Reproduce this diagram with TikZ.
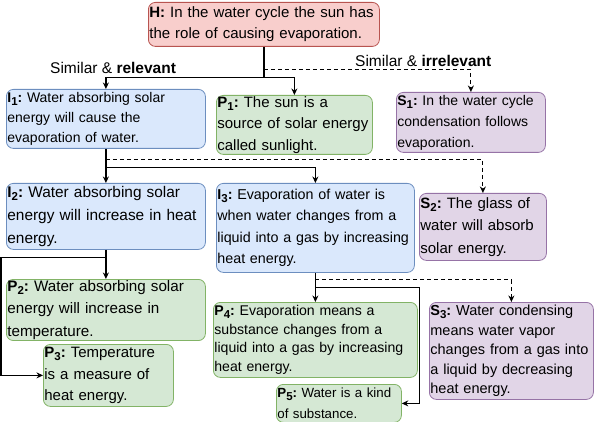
\documentclass[tikz,border=0pt]{standalone}
\usepackage{fontspec}
\setmainfont{Liberation Sans}
\usetikzlibrary{positioning, arrows.meta, calc}

\definecolor{hypfill}{HTML}{F8CECC}
\definecolor{hypline}{HTML}{B85450}
\definecolor{inffill}{HTML}{DAE8FC}
\definecolor{infline}{HTML}{6C8EBF}
\definecolor{prefill}{HTML}{D5E8D4}
\definecolor{preline}{HTML}{82B366}
\definecolor{simfill}{HTML}{E1D5E7}
\definecolor{simline}{HTML}{9673A6}

\newcommand{\fsz}[2]{\fontsize{#1}{#2}\selectfont}
\newcommand{\stmt}[2]{\textbf{#1\raisebox{-0.22em}{\fontsize{11.5}{12}\selectfont#2}:}}

\begin{document}
\begin{tikzpicture}[x=1pt, y=-1pt,
    card/.style={draw, rounded corners=7pt, anchor=north west, align=left,
                 inner xsep=1pt, inner ysep=1pt, line width=0.8pt,
                 execute at begin node={\hyphenpenalty=10000\frenchspacing}},
    hcard/.style={card, fill=hypfill, draw=hypline},
    icard/.style={card, fill=inffill, draw=infline},
    pcard/.style={card, fill=prefill, draw=preline},
    scard/.style={card, fill=simfill, draw=simline},
    link/.style={line width=1.3pt},
    flow/.style={link, -{Stealth[length=6.5pt,width=6pt]}},
    simflow/.style={flow, line width=1.1pt, dash pattern=on 4pt off 3pt}]
    \useasboundingbox (0,0) rectangle (594,422);

    % hypothesis
    \node[hcard, text width=229pt, minimum height=44pt, font=\fsz{15}{21}] (H) at (148,2)
        {\textbf{H:} In the water cycle the sun has\\the role of causing evaporation.};

    % first level
    \node[icard, text width=197pt, minimum height=59pt, font=\fsz{14}{20}] (I1) at (6,89)
        {\stmt{I}{1} Water absorbing solar\\energy will cause the\\evaporation of water.};
    \node[pcard, text width=154pt, minimum height=59pt, font=\fsz{15}{21.5}] (P1) at (216,95)
        {\stmt{P}{1} The sun is a\\source of solar energy\\called sunlight.};
    \node[scard, text width=147pt, minimum height=60pt, font=\fsz{14}{21}] (S1) at (396,92)
        {\stmt{S}{1} In the water cycle\\condensation follows\\evaporation.};

    % second level
    \node[icard, text width=197pt, minimum height=66pt, font=\fsz{15.4}{23}] (I2) at (6,183)
        {\stmt{I}{2} Water absorbing solar\\energy will increase in heat\\energy.};
    \node[icard, text width=196pt, minimum height=89pt, font=\fsz{14.3}{21.5}] (I3) at (216,183)
        {\stmt{I}{3} Evaporation of water is\\when water changes from a\\liquid into a gas by increasing\\heat energy.};
    \node[scard, text width=125pt, minimum height=67pt, font=\fsz{15}{22.5}] (S2) at (419,193)
        {\stmt{S}{2} The glass of\\water will absorb\\solar energy.};

    % third level
    \node[pcard, text width=197pt, minimum height=60pt, font=\fsz{15.2}{22.5}] (P2) at (6,279)
        {\stmt{P}{2} Water absorbing solar\\energy will increase in\\temperature.};
    \node[pcard, text width=128pt, minimum height=62pt, font=\fsz{15}{21.5}] (P3) at (43,344)
        {\stmt{P}{3} Temperature\\is a measure of\\heat energy.};
    \node[pcard, text width=202pt, minimum height=75pt, font=\fsz{14.1}{18.5}] (P4) at (213,302)
        {\stmt{P}{4} Evaporation means a\\substance changes from a\\liquid into a gas by increasing\\heat energy.};
    \node[pcard, text width=123pt, minimum height=38pt, font=\fsz{13.3}{21}] (P5) at (276,384)
        {\stmt{P}{5} Water is a kind\\of substance.};
    \node[scard, text width=162pt, minimum height=97pt, font=\fsz{14.5}{19.5}] (S3) at (429,302)
        {\stmt{S}{3} Water condensing\\means water vapor\\changes from a gas into\\a liquid by decreasing\\heat energy.};

    % labels
    \node[font=\fsz{15.5}{18}, anchor=base west, inner sep=0pt] (rel) at (50,74) {Similar \& \textbf{relevant}};
    \node[font=\fsz{15.5}{18}, anchor=base west, inner sep=0pt] (irr) at (355,67) {Similar \& \textbf{irrelevant}};

    % from H
    \coordinate (hs) at ($(H.south)+(0,31)$);
    \coordinate (hd) at ($(H.south)+(0,23)$);
    \draw[link] (H.south) -- (hs);
    \draw[flow] (hs) -| (I1.north);
    \draw[flow] (hs) -| (P1.north);
    \draw[simflow] (hd) -| (S1.north);

    % from I1
    \coordinate (i1s) at ($(I1.south)+(0,19)$);
    \coordinate (i1d) at ($(I1.south)+(0,11)$);
    \draw[flow] (I1.south) -- (I2.north);
    \draw[flow] (i1s) -| (I3.north);
    \draw[simflow] (i1d) -| (S2.north);

    % from I2
    \coordinate (i2s) at ($(I2.south)+(0,8)$);
    \draw[flow] (I2.south) -- (P2.north);
    \draw[flow] (i2s) -| ($(P3.west)+(-42,0)$) -- (P3.west);

    % from I3
    \coordinate (i3d) at ($(I3.south)+(0,7)$);
    \coordinate (i3s) at ($(I3.south)+(0,15)$);
    \draw[flow] (I3.south) -- (P4.north);
    \draw[simflow] (i3d) -| (S3.north);
    \draw[flow] (i3s) -| ($(P5.east)+(18,0)$) -- (P5.east);
\end{tikzpicture}
\end{document}
